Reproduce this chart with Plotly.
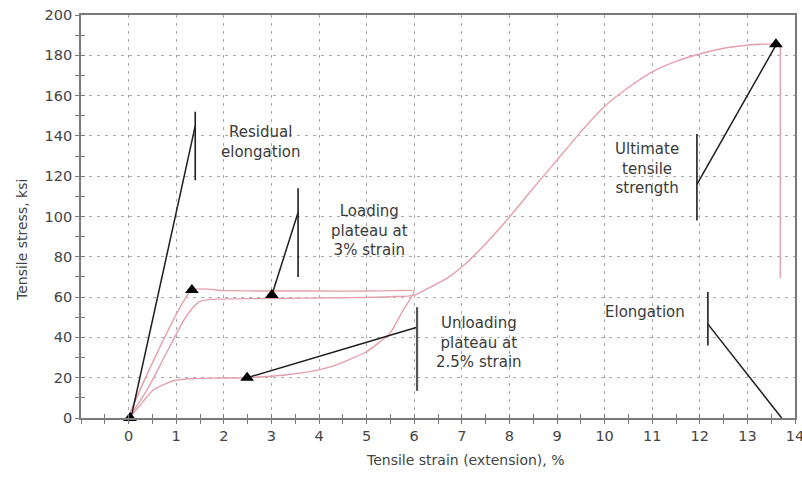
import plotly.graph_objects as go

# ---------------- data ----------------
# first loading -> plateau -> unloading -> back to origin
cycle1_x = [0.0, 1.33, 2.0, 3.0, 4.0, 5.0, 5.6, 6.0, 5.77, 5.49, 5.0, 4.44, 4.02, 3.33, 2.83, 2.49, 1.8, 1.36, 0.94, 0.52, 0.3, 0.0]
cycle1_y = [0.0, 63.5, 63.2, 63.0, 63.0, 63.0, 63.2, 63.0, 53.6, 42.0, 33.0, 27.0, 24.0, 21.5, 20.5, 20.0, 19.8, 19.6, 18.5, 14.0, 8.0, 0.0]

# reloading -> plateau -> hardening up to ultimate strength
reload_x = [0.0, 0.4, 0.8, 1.2, 1.47, 1.7, 3.0, 4.5, 5.5, 6.0, 6.3, 6.7, 7.1, 7.5, 8.01, 8.5, 9.0, 9.5, 9.97, 10.5, 11.02, 11.5, 12.05, 12.5, 12.99, 13.3, 13.69]
reload_y = [0.0, 14.5, 32.5, 50.0, 57.5, 58.8, 59.3, 59.7, 60.2, 61.0, 64.5, 69.5, 77.0, 86.5, 100.0, 114.0, 128.0, 142.0, 154.0, 164.0, 172.0, 177.0, 181.0, 183.5, 185.0, 185.5, 185.5]

# fracture drop
fracture_x = [13.69, 13.69]
fracture_y = [185.5, 69.5]

# marked points (black triangles)
marker_x = [0.03, 1.33, 3.01, 2.49, 13.6]
marker_y = [0.0, 63.5, 61.0, 20.0, 185.5]

# callout labels, pointer lines and vertical bars
callout_labels = ["Residual<br>elongation",
                  "Loading<br>plateau at<br>3% strain",
                  "Unloading<br>plateau at<br>2.5% strain",
                  "Ultimate<br>tensile<br>strength",
                  "Elongation"]
label_x = [2.79, 5.07, 7.36, 10.90, 10.85]
label_y = [137.2, 93.3, 37.7, 124.0, 52.6]
pointer_x = [[0.05, 1.40], [3.01, 3.56], [2.49, 6.06], [11.94, 13.6], [12.17, 13.72]]
pointer_y = [[0.0, 145.0], [61.0, 102.0], [20.0, 45.0], [116.0, 185.0], [46.6, 0.0]]
bar_x = [1.40, 3.56, 6.06, 11.94, 12.17]
bar_y = [[118.0, 152.0], [70.0, 114.0], [13.5, 55.0], [98.0, 141.0], [36.0, 62.5]]

x_ticks = list(range(0, 15))
y_ticks = list(range(0, 201, 20))
x_minor = [v / 2 for v in range(-2, 29) if v % 2 != 0] + [-1]
y_minor = list(range(10, 200, 20))

x_title = "Tensile strain (extension), %"
y_title = "Tensile stress, ksi"

# ---------------- styles ----------------
PINK = "#e6a0aa"
INK = "#1e1e1e"
AXIS = "#7a7a7a"
TXT = "#3a3a3a"
FONT = "DejaVu Sans"

fig = go.Figure()

fig.add_trace(go.Scatter(x=cycle1_x, y=cycle1_y, mode="lines",
                         line=dict(color=PINK, width=1.4, shape="spline", smoothing=0.5),
                         hoverinfo="skip", showlegend=False))
fig.add_trace(go.Scatter(x=reload_x, y=reload_y, mode="lines",
                         line=dict(color=PINK, width=1.4, shape="spline", smoothing=0.8),
                         hoverinfo="skip", showlegend=False))
fig.add_trace(go.Scatter(x=fracture_x, y=fracture_y, mode="lines",
                         line=dict(color=PINK, width=1.4),
                         hoverinfo="skip", showlegend=False))

for i in range(len(callout_labels)):
    fig.add_trace(go.Scatter(x=pointer_x[i], y=pointer_y[i], mode="lines",
                             line=dict(color=INK, width=1.5),
                             hoverinfo="skip", showlegend=False, cliponaxis=False))
    fig.add_trace(go.Scatter(x=[bar_x[i], bar_x[i]], y=bar_y[i], mode="lines",
                             line=dict(color=INK if i != 2 else "#555555", width=1.6 if i != 2 else 2.2),
                             hoverinfo="skip", showlegend=False))
    fig.add_annotation(x=label_x[i], y=label_y[i], xref="x", yref="y",
                       text=callout_labels[i], showarrow=False,
                       font=dict(family=FONT, size=15, color=TXT), align="center")

fig.add_trace(go.Scatter(x=marker_x, y=marker_y, mode="markers",
                         marker=dict(symbol="triangle-up", size=12, color="#000000"),
                         hoverinfo="skip", showlegend=False, cliponaxis=False))

grid = dict(showgrid=True, gridcolor="#a8a8a8", gridwidth=1, griddash="3px,5px")

fig.update_layout(
    width=802, height=478,
    margin=dict(l=81, r=7, t=15, b=60, autoexpand=False),
    paper_bgcolor="white", plot_bgcolor="white",
    font=dict(family=FONT, size=15, color="#444444"),
    xaxis=dict(range=[-1, 14], tickvals=x_ticks, ticktext=[str(v) for v in x_ticks],
               ticks="outside", ticklen=4, tickcolor=AXIS, tickwidth=1.3,
               minor=dict(tickvals=x_minor, ticks="outside", ticklen=4, tickcolor=AXIS, showgrid=False),
               showline=True, linecolor=AXIS, linewidth=1.8, mirror=True,
               zeroline=False, ticklabelstandoff=0, ticklabeloverflow="allow", automargin=False,
               tickfont=dict(family=FONT, size=14.5, color="#444444"), **grid),
    yaxis=dict(range=[0, 200], tickvals=y_ticks, ticktext=[str(v) for v in y_ticks],
               ticks="outside", ticklen=4, tickcolor=AXIS, tickwidth=1.3,
               minor=dict(tickvals=y_minor, ticks="outside", ticklen=4, tickcolor=AXIS, showgrid=False),
               showline=True, linecolor=AXIS, linewidth=1.8, mirror=True,
               zeroline=False, ticklabelstandoff=0, ticklabeloverflow="allow", automargin=False,
               tickfont=dict(family=FONT, size=14.5, color="#444444"), **grid),
    xaxis2=dict(overlaying="x", anchor="y", range=[-1, 14], side="bottom", automargin=False,
                tickvals=x_ticks + x_minor, ticks="inside", ticklen=4, tickcolor=AXIS, tickwidth=1.3,
                showticklabels=False, showgrid=False, zeroline=False, showline=False),
    yaxis2=dict(overlaying="y", anchor="x", range=[0, 200], side="left", automargin=False,
                tickvals=y_ticks + y_minor, ticks="inside", ticklen=4, tickcolor=AXIS, tickwidth=1.3,
                showticklabels=False, showgrid=False, zeroline=False, showline=False),
)

# invisible trace so the overlay axes are drawn
fig.add_trace(go.Scatter(x=[None], y=[None], xaxis="x2", yaxis="y2", showlegend=False, hoverinfo="skip"))

fig.add_annotation(x=0.539, y=-0.104, xref="paper", yref="paper", text=x_title,
                   xanchor="center", yanchor="middle",
                   showarrow=False, font=dict(family=FONT, size=14, color="#444444"))
fig.add_annotation(x=-0.0826, y=0.4417, xref="paper", yref="paper", text=y_title,
                   xanchor="center", yanchor="middle",
                   textangle=-90, showarrow=False, font=dict(family=FONT, size=14, color="#444444"))

fig.write_html("out.html")
